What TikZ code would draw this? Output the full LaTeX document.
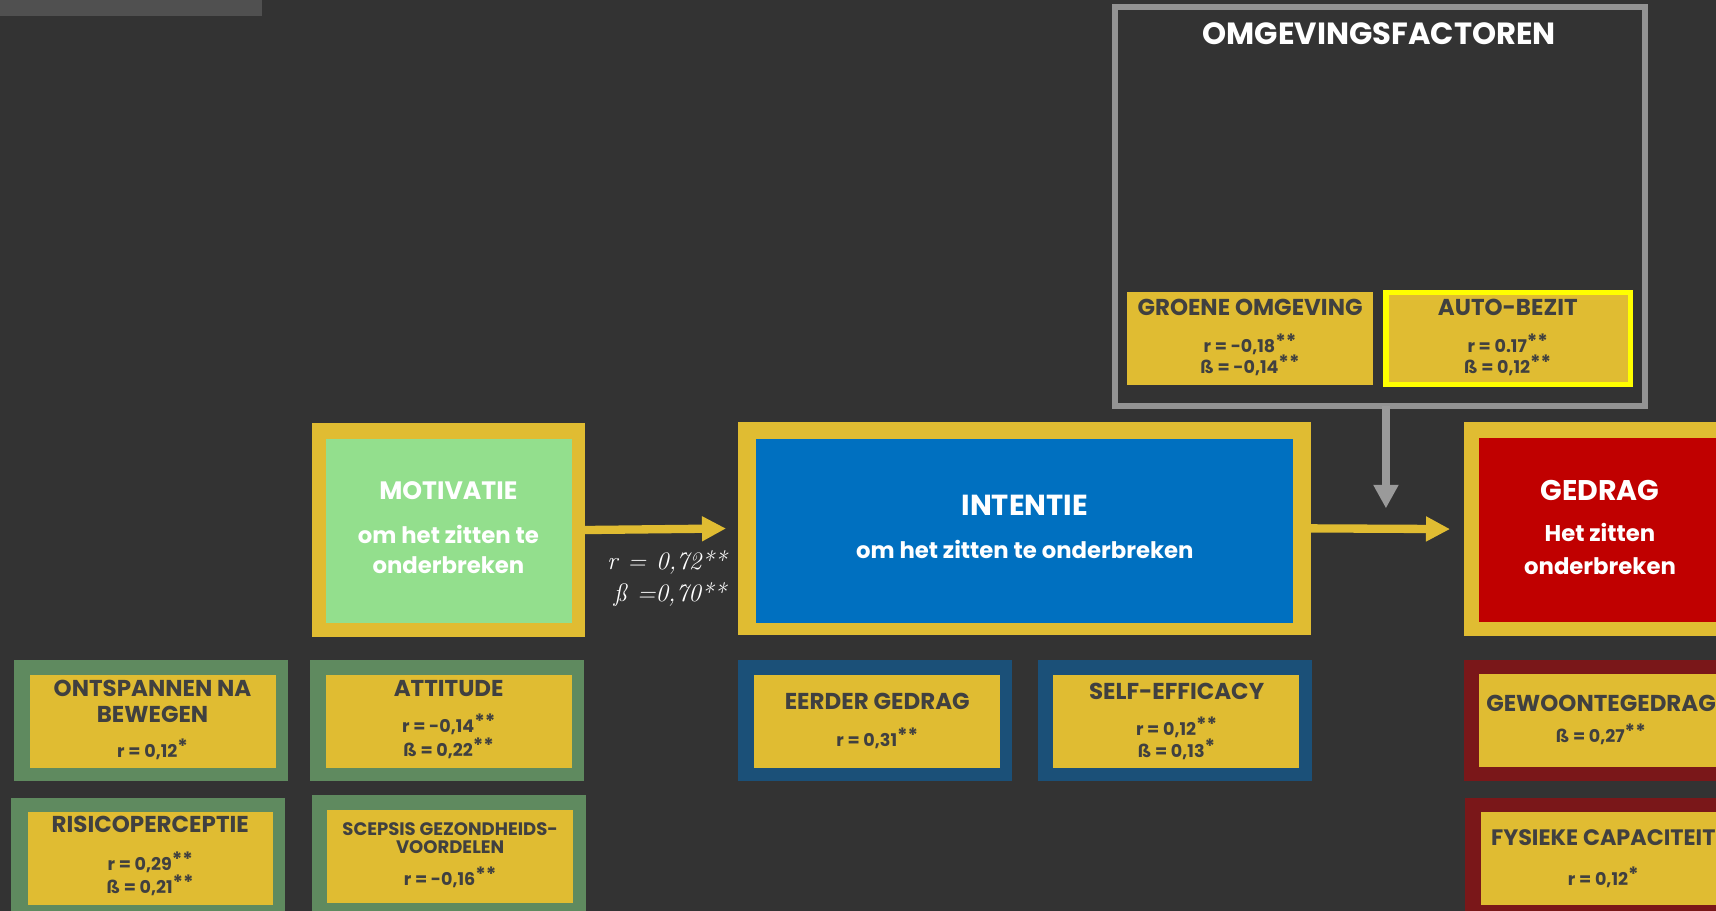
\documentclass[tikz,border=0pt]{standalone}
\usepackage{fontspec}
\newfontfamily\pop{Poppins}
\usetikzlibrary{arrows.meta}
\definecolor{bg}{HTML}{333333}
\definecolor{topbar}{HTML}{505050}
\definecolor{ygold}{HTML}{E0BC32}
\definecolor{gdark}{HTML}{5F8A5F}
\definecolor{glight}{HTML}{93DF8D}
\definecolor{bblue}{HTML}{0070C0}
\definecolor{bdark}{HTML}{1B5078}
\definecolor{rred}{HTML}{C00000}
\definecolor{rdark}{HTML}{7A1719}
\definecolor{tdark}{HTML}{404040}
\definecolor{gline}{HTML}{939393}
\definecolor{garrow}{HTML}{9A9A9A}
\definecolor{byellow}{HTML}{FFFF00}
\newcommand\sig[1]{\raisebox{0.22em}{\fontsize{18}{18}\selectfont #1}}
\tikzset{
  box/.style={rectangle, inner sep=0pt, outer sep=0pt, draw=none},
  txt/.style={inner sep=0pt, outer sep=0pt, anchor=base, font=\pop\bfseries},
  ttl/.style={txt, text=tdark, font=\pop\bfseries\fontsize{21}{24}\selectfont},
  val/.style={txt, text=tdark, font=\pop\bfseries\fontsize{16}{19}\selectfont},
  big/.style={txt, text=white, font=\pop\bfseries\fontsize{#1}{#1}\selectfont},
  sub/.style={txt, text=white, font=\pop\bfseries\fontsize{20.8}{23}\selectfont},
  yarrow/.style={draw=ygold, line width=7.6pt, -{Triangle[length=22pt,width=21.5pt]}},
  garr/.style={draw=garrow, line width=7.6pt, -{Triangle[length=21.5pt,width=21.7pt]}},
  lab/.style={inner sep=0pt, outer sep=0pt, text=white, font=\itshape\fontsize{23}{25}\selectfont}
}
\begin{document}
\begin{tikzpicture}[x=1pt,y=-1pt]
\clip (0,0) rectangle (1568,832.4);
\fill[bg] (0,0) rectangle (1568,832.4);
\node[box, fill=topbar, minimum width=239.4pt, minimum height=14.6pt] (topbar) at (119.7,7.3) {};

% Omgevingsfactoren
\node[box, draw=gline, line width=5.5pt, minimum width=484pt, minimum height=365pt] (omg) at (1261,188.5) {};
\node[big=28] (omgt) at (1260.3,41) {OMGEVINGSFACTOREN};

\node[box, fill=ygold, minimum width=225.1pt, minimum height=85pt] (groen) at (1142.15,309.3) {};
\node[ttl] (groent) at (1142.2,288) {GROENE OMGEVING};
\node[val] (groenr) at (1142.2,322.3) {r = -0,18\sig{**}};
\node[val] (groenb) at (1142.2,341) {ß = -0,14\sig{**}};

\node[box, fill=ygold, draw=byellow, line width=5pt, minimum width=223.6pt, minimum height=84pt] (auto) at (1378.1,309.5) {};
\node[ttl] (autot) at (1377.7,288) {AUTO-BEZIT};
\node[val] (autor) at (1377.7,322.3) {r = 0.17\sig{**}};
\node[val] (autob) at (1377.7,341) {ß = 0,12\sig{**}};

% Main row
\node[box, fill=ygold, minimum width=249.5pt, minimum height=195pt] (motout) at (409.85,484.3) {};
\node[box, fill=glight, minimum width=224.5pt, minimum height=167.5pt] (motin) at (410.15,485.25) {};
\node[big=23] (mott) at (409.7,456) {MOTIVATIE};
\node[sub] (mots1) at (409.7,496.5) {om het zitten te};
\node[sub] (mots2) at (409.7,524) {onderbreken};

\node[box, fill=ygold, minimum width=524pt, minimum height=195pt] (intout) at (936,482.8) {};
\node[box, fill=bblue, minimum width=491.1pt, minimum height=168pt] (intin) at (936.35,485) {};
\node[big=26.5] (intt) at (936.4,470.7) {INTENTIE};
\node[sub] (ints) at (936.4,510) {om het zitten te onderbreken};

\node[box, fill=ygold, minimum width=250pt, minimum height=195pt] (gedout) at (1463,483.5) {};
\node[box, fill=rred, minimum width=224pt, minimum height=168pt] (gedin) at (1463,484) {};
\node[big=26] (gedt) at (1462,457) {GEDRAG};
\node[sub] (geds1) at (1462,495) {Het zitten};
\node[sub] (geds2) at (1462,524.5) {onderbreken};

% Arrows
\draw[yarrow, shorten >=10.6pt] (motout.east) -- (intout.west);
\draw[yarrow, shorten >=13pt] (intout.east) -- (gedout.west);
\coordinate (gtip) at (1266.4,464.5);
\draw[garr] (omg.south -| gtip) -- (gtip);
\node[lab, anchor=base east] (labr) at (664,520.8) {r\hspace{9pt}=\hspace{9pt}0,72**};
\node[lab, anchor=base east] (labb) at (663.5,549.8) {ß\hspace{9pt}=0,70**};

% Bottom boxes
\node[box, fill=gdark, minimum width=250pt, minimum height=110.3pt] (ontout) at (138,658.25) {};
\node[box, fill=ygold, minimum width=224.5pt, minimum height=84.7pt] (ontin) at (139.55,659.15) {};
\node[ttl] (ontt1) at (139.4,636) {ONTSPANNEN NA};
\node[ttl] (ontt2) at (139.4,660.4) {BEWEGEN};
\node[val] (ontr) at (139.4,692) {r = 0,12\sig{*}};

\node[box, fill=gdark, minimum width=250pt, minimum height=110.3pt] (attout) at (408.3,658.25) {};
\node[box, fill=ygold, minimum width=224.8pt, minimum height=84.7pt] (attin) at (410.4,659.15) {};
\node[ttl] (attt) at (410,636) {ATTITUDE};
\node[val] (attr) at (410,669.5) {r = -0,14\sig{**}};
\node[val] (attb) at (410,691.5) {ß = 0,22\sig{**}};

\node[box, fill=gdark, minimum width=250pt, minimum height=110.5pt] (risout) at (135.5,784.75) {};
\node[box, fill=ygold, minimum width=223.8pt, minimum height=84.7pt] (risin) at (137.1,784.65) {};
\node[ttl] (rist) at (137.3,761) {RISICOPERCEPTIE};
\node[val] (risr) at (137.3,795) {r = 0,29\sig{**}};
\node[val] (risb) at (137.3,816.3) {ß = 0,21\sig{**}};

\node[box, fill=gdark, minimum width=250pt, minimum height=113.5pt] (sceout) at (410,783.25) {};
\node[box, fill=ygold, minimum width=224.5pt, minimum height=84.8pt] (scein) at (411.25,782.6) {};
\node[txt, text=tdark, font=\pop\bfseries\fontsize{16.5}{19}\selectfont] (scet1) at (411.3,763) {SCEPSIS GEZONDHEIDS-};
\node[txt, text=tdark, font=\pop\bfseries\fontsize{16.5}{19}\selectfont] (scet2) at (411.3,779.8) {VOORDELEN};
\node[val] (scer) at (411.3,809.4) {r = -0,16\sig{**}};

\node[box, fill=bdark, minimum width=250pt, minimum height=110.4pt] (eerout) at (799.6,658.2) {};
\node[box, fill=ygold, minimum width=224.8pt, minimum height=84.7pt] (eerin) at (801.4,659.15) {};
\node[ttl] (eert) at (801.6,648.2) {EERDER GEDRAG};
\node[val] (eerr) at (801.6,681.7) {r = 0,31\sig{**}};

\node[box, fill=bdark, minimum width=250.5pt, minimum height=110.4pt] (selout) at (1073.75,658.2) {};
\node[box, fill=ygold, minimum width=224.8pt, minimum height=84.7pt] (selin) at (1074.6,659.15) {};
\node[ttl] (selt) at (1075.1,639) {SELF-EFFICACY};
\node[val] (selr) at (1075.1,672.3) {r = 0,12\sig{**}};
\node[val] (selb) at (1075.1,692) {ß = 0,13\sig{*}};

\node[box, fill=rdark, minimum width=250pt, minimum height=110.4pt] (gewout) at (1463,658.2) {};
\node[box, fill=ygold, minimum width=224pt, minimum height=84.6pt] (gewin) at (1463,658.3) {};
\node[ttl] (gewt) at (1463,649.7) {GEWOONTEGEDRAG};
\node[val] (gewb) at (1462.8,678.7) {ß = 0,27\sig{**}};

\node[box, fill=rdark, minimum width=250pt, minimum height=110.5pt] (fysout) at (1464,784.75) {};
\node[box, fill=ygold, minimum width=224.6pt, minimum height=84.7pt] (fysin) at (1465.7,784.65) {};
\node[ttl, font=\pop\bfseries\fontsize{20.4}{24}\selectfont] (fyst) at (1465,772.8) {FYSIEKE CAPACITEIT};
\node[val] (fysr) at (1465,808.8) {r = 0,12\sig{*}};
\end{tikzpicture}
\end{document}
